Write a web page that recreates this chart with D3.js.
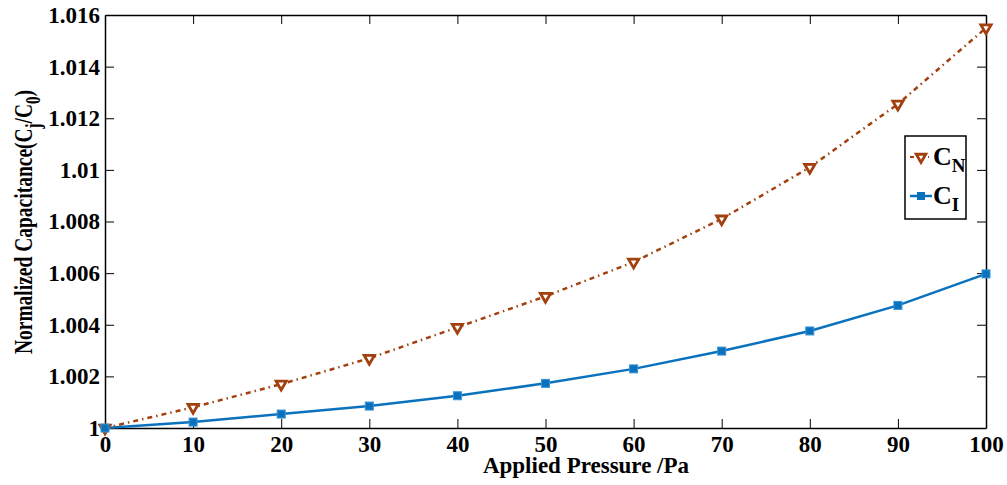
<!DOCTYPE html>
<html>
<head>
<meta charset="utf-8">
<script src="https://cdn.jsdelivr.net/npm/d3@7"></script>
<style>
  body { margin: 0; background: #fff; }
  text { font-family: "Liberation Serif", "Times New Roman", serif; font-weight: bold; }
</style>
</head>
<body>
<div id="chart"></div>
<script>
// data
const pressure = [0, 10, 20, 30, 40, 50, 60, 70, 80, 90, 100];
const capN = [1.0, 1.0008, 1.0017, 1.0027, 1.0039, 1.0051, 1.00643, 1.0081, 1.0101, 1.01255, 1.0155];
const capI = [1.0, 1.00023, 1.00054, 1.00085, 1.00125, 1.00173, 1.00229, 1.00298, 1.00376, 1.00475, 1.00597];
const xTicks = [0, 10, 20, 30, 40, 50, 60, 70, 80, 90, 100];
const yTicks = [1, 1.002, 1.004, 1.006, 1.008, 1.01, 1.012, 1.014, 1.016];

const W = 1007, H = 485;
const margin = {top: 15, right: 21, bottom: 57, left: 105};
const width = W - margin.left - margin.right,
  height = H - margin.top - margin.bottom;

const svg = d3.select("#chart").append("svg")
  .attr("width", W).attr("height", H);
const g = svg.append("g")
  .attr("transform", "translate(" + margin.left + "," + margin.top + ")");

const x = d3.scaleLinear().domain([0, 100]).range([0, width]);
const y = d3.scaleLinear().domain([1, 1.016]).range([height, 0]);

const fmtY = d => d3.format(".3f")(d).replace(/\.?0+$/, "");

// Axes with inward ticks
const axB = g.append("g").attr("transform", "translate(0," + height + ")")
  .call(d3.axisBottom(x).tickValues(xTicks).tickSizeInner(-9).tickSizeOuter(0).tickPadding(8));
const axL = g.append("g")
  .call(d3.axisLeft(y).tickValues(yTicks).tickFormat(fmtY).tickSizeInner(-9).tickSizeOuter(0).tickPadding(5));
const axT = g.append("g")
  .call(d3.axisTop(x).tickValues(xTicks).tickSizeInner(-9).tickSizeOuter(0).tickFormat(""));
const axR = g.append("g").attr("transform", "translate(" + width + ",0)")
  .call(d3.axisRight(y).tickValues(yTicks).tickSizeInner(-9).tickSizeOuter(0).tickFormat(""));

[axB, axL, axT, axR].forEach(a => {
  a.select(".domain").attr("stroke", "#000").attr("stroke-width", 1.5);
  a.selectAll(".tick line").attr("stroke", "#000").attr("stroke-width", 1);
  a.selectAll(".tick text").attr("fill", "#000")
    .style("font-size", "23px").style("font-family", "Liberation Serif").style("font-weight", "bold");
});

const colN = "#a2400f", colI = "#0a72bd";
const line = d3.line().x(d => x(d[0])).y(d => y(d[1]));
const dataN = pressure.map((p, i) => [p, capN[i]]);
const dataI = pressure.map((p, i) => [p, capI[i]]);

g.append("path").datum(dataI)
  .attr("fill", "none").attr("stroke", colI).attr("stroke-width", 2.5)
  .attr("d", line);
g.append("path").datum(dataN)
  .attr("fill", "none").attr("stroke", colN).attr("stroke-width", 2.5)
  .attr("stroke-dasharray", "5,4,1.5,4")
  .attr("d", line);

const tri = d3.symbol().type(d3.symbolTriangle).size(45);
g.selectAll(".mN").data(dataN).enter().append("path")
  .attr("d", tri)
  .attr("transform", d => "translate(" + x(d[0]) + "," + y(d[1]) + ") rotate(180)")
  .attr("fill", "#fff").attr("stroke", colN).attr("stroke-width", 2.8);

g.selectAll(".mI").data(dataI).enter().append("rect")
  .attr("x", d => x(d[0]) - 4).attr("y", d => y(d[1]) - 4)
  .attr("width", 8).attr("height", 8)
  .attr("fill", colI).attr("stroke", "#3a93d4").attr("stroke-width", 1);

// Legend
const lg = svg.append("g").attr("transform", "translate(905,136)");
lg.append("rect").attr("width", 61).attr("height", 83)
  .attr("fill", "#fff").attr("stroke", "#000").attr("stroke-width", 1.5);
lg.append("line").attr("x1", 5).attr("x2", 27).attr("y1", 21).attr("y2", 21)
  .attr("stroke", colN).attr("stroke-width", 2).attr("stroke-dasharray", "4,3,1,3");
lg.append("path").attr("d", d3.symbol().type(d3.symbolTriangle).size(40))
  .attr("transform", "translate(16,21) rotate(180)")
  .attr("fill", "#fff").attr("stroke", colN).attr("stroke-width", 2.8);
lg.append("line").attr("x1", 5).attr("x2", 27).attr("y1", 60).attr("y2", 60)
  .attr("stroke", colI).attr("stroke-width", 2.5);
lg.append("rect").attr("x", 12).attr("y", 56).attr("width", 8).attr("height", 8)
  .attr("fill", colI);
const t1 = lg.append("text").attr("x", 28).attr("y", 29).style("font-size", "26px");
t1.append("tspan").text("C");
t1.append("tspan").attr("dy", 7).style("font-size", "19px").text("N");
const t2 = lg.append("text").attr("x", 28).attr("y", 68).style("font-size", "26px");
t2.append("tspan").text("C");
t2.append("tspan").attr("dy", 7).style("font-size", "19px").text("I");

// Axis labels
svg.append("text").attr("x", 586).attr("y", 473)
  .attr("text-anchor", "middle").style("font-size", "23px")
  .text("Applied Pressure /Pa");

const yl = svg.append("text")
  .attr("transform", "translate(32,222) rotate(-90) scale(0.75,1)")
  .attr("text-anchor", "middle").style("font-size", "26px");
yl.append("tspan").text("Normalized Capacitance(C");
yl.append("tspan").attr("dy", 8).style("font-size", "20px").text("j");
yl.append("tspan").attr("dy", -8).text("/C");
yl.append("tspan").attr("dy", 8).style("font-size", "20px").text("0");
yl.append("tspan").attr("dy", -8).text(")");
</script>
</body>
</html>
